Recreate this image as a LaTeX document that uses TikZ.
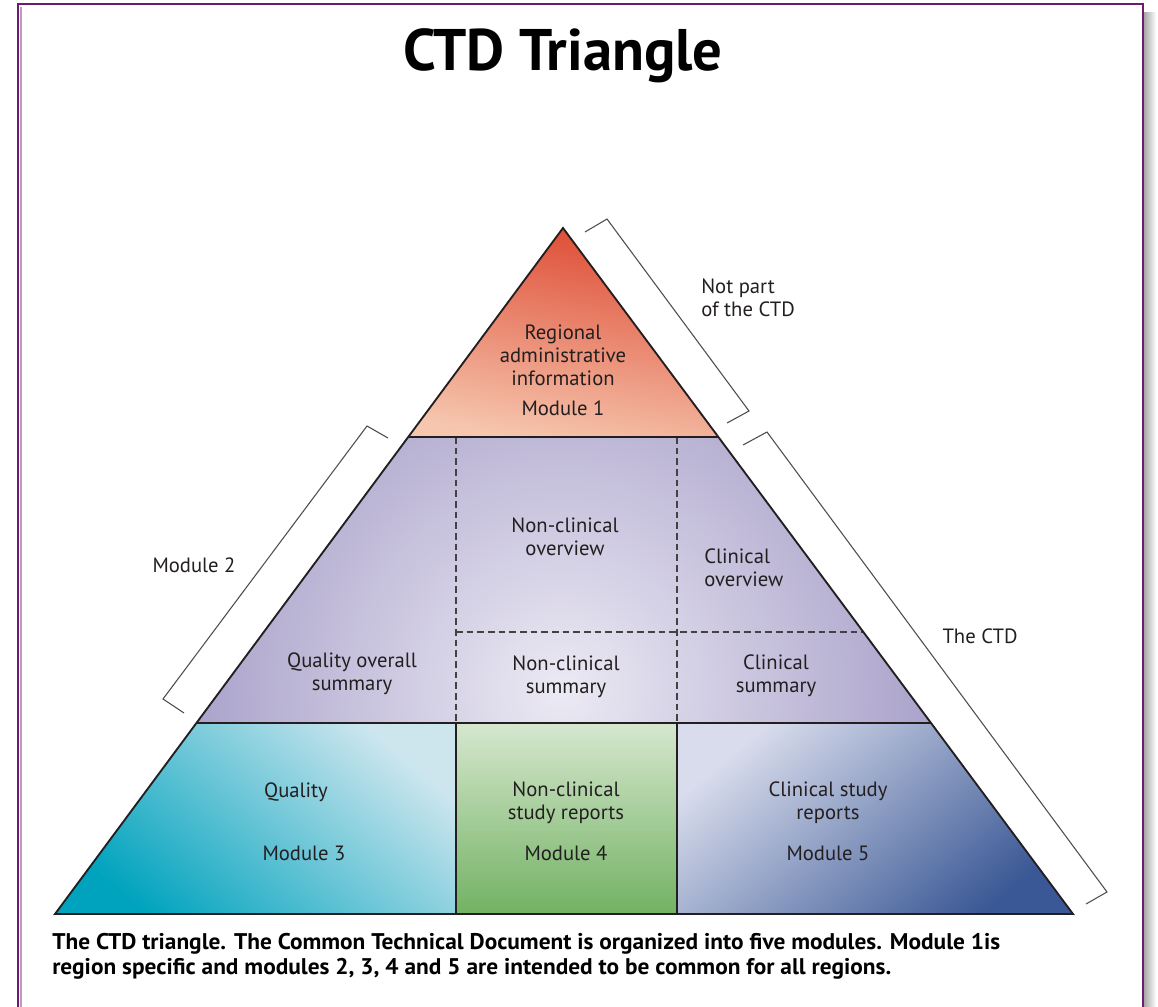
\documentclass[tikz,border=0pt]{standalone}
\usepackage{fontspec}
\setmainfont{PT Sans}
\definecolor{framec}{HTML}{6E1A72}
\definecolor{inkc}{HTML}{231F20}
\definecolor{bracketc}{HTML}{4D4D4F}
\definecolor{redtop}{HTML}{DE4A33}
\definecolor{redbot}{HTML}{F6C6AE}
\definecolor{purpout}{HTML}{857AB3}
\definecolor{purpin}{HTML}{ECEAF4}
\definecolor{tealdark}{HTML}{00A3BE}
\definecolor{teallight}{HTML}{CDE6EE}
\definecolor{greenlight}{HTML}{D6E7CF}
\definecolor{greendark}{HTML}{72B262}
\definecolor{bluelight}{HTML}{D8DCEC}
\definecolor{bluedark}{HTML}{3A5895}
\tikzset{
  lbl/.style={text=inkc, align=center, font=\fontsize{15.5}{17.3}\selectfont, inner sep=0pt},
  brace/.style={draw=bracketc, line width=0.8pt},
  dashline/.style={draw=inkc!85, line width=0.8pt, dash pattern=on 5pt off 3pt}
}
\begin{document}
\begin{tikzpicture}[x=0.75pt, y=-0.75pt]
\useasboundingbox (0,0) rectangle (1158,1007);
\shade[left color=black!35, right color=white] (1144,12) rectangle (1156,1007);
\draw[framec!45, line width=1pt] (21,1007) -- (21,7);
\draw[framec, line width=2.2pt] (18,1007) |- (1143,4) -- (1143,1007);
\coordinate (apex) at (563,228);
\coordinate (bl) at (55,914);
\coordinate (br) at (1073,914);
\coordinate (l1) at (408,437);
\coordinate (r1) at (718,437);
\coordinate (l2) at (196,723);
\coordinate (r2) at (931,723);
\coordinate (c1) at (456,437);
\coordinate (c2) at (677,437);
\coordinate (d1) at (456,723);
\coordinate (d2) at (677,723);
\coordinate (e1) at (456,914);
\coordinate (e2) at (677,914);
\coordinate (m1) at (456,632);
\coordinate (m2) at (863,632);
\shade[top color=redtop, bottom color=redbot, shading angle=-10] (apex) -- (r1) -- (l1) -- cycle;
\begin{scope}
\clip (l1) -- (r1) -- (r2) -- (l2) -- cycle;
\shade[inner color=purpin, outer color=purpout] (562,690) circle (580);
\end{scope}
\shade[top color=teallight, bottom color=tealdark, shading angle=-40] (l2) -- (d1) -- (e1) -- (bl) -- cycle;
\shade[top color=greenlight, bottom color=greendark] (d1) -- (d2) -- (e2) -- (e1) -- cycle;
\shade[top color=bluelight, bottom color=bluedark, shading angle=40] (d2) -- (r2) -- (br) -- (e2) -- cycle;
\draw[dashline] (c1) -- (d1);
\draw[dashline] (c2) -- (d2);
\draw[dashline] (m1) -- (m2);
\draw[inkc, line width=1pt] (d1) -- (e1) (d2) -- (e2);
\draw[inkc, line width=1.1pt] (l1) -- (r1) (l2) -- (r2);
\draw[inkc, line width=1.4pt, line join=miter] (apex) -- (br) -- (bl) -- cycle;
\draw[brace] (585,232) -- (607,219) -- (749,411) -- (727,423);
\draw[brace] (743,445) -- (767,432) -- (1107,892) -- (1086,904);
\draw[brace] (388,438) -- (367,426) -- (163,699) -- (184,713);
\node[font=\fontsize{44}{50}\selectfont\bfseries, text=black] (title) at (563,56) {CTD Triangle};
\node[lbl] (regional) at (563,355) {Regional\\administrative\\information};
\node[lbl] (mod1) at (563,408) {Module 1};
\node[lbl, align=left, anchor=west] (notpart) at (701,298) {Not part\\of the CTD};
\node[lbl] (thectd) at (980,636) {The CTD};
\node[lbl] (mod2) at (194,565) {Module 2};
\node[lbl] (ncover) at (565,537) {Non-clinical\\overview};
\node[lbl, align=left, anchor=west] (clover) at (704,568) {Clinical\\overview};
\node[lbl] (qos) at (352,674) {Quality overall\\summary};
\node[lbl] (ncsum) at (566,677) {Non-clinical\\summary};
\node[lbl] (clsum) at (776,676) {Clinical\\summary};
\node[lbl] (quality) at (296,792) {Quality};
\node[lbl] (mod3) at (304,853) {Module 3};
\node[lbl] (ncstudy) at (566,803) {Non-clinical\\study reports};
\node[lbl] (mod4) at (566,853) {Module 4};
\node[lbl] (clstudy) at (828,803) {Clinical study\\reports};
\node[lbl] (mod5) at (828,853) {Module 5};
\node[anchor=west, align=left, inner sep=0pt, text=black, font=\fontsize{17}{18.5}\selectfont\bfseries] (caption) at (52,956) {\scalebox{1.03}[1]{The CTD triangle. The Common Technical Document is organized into five modules. Module 1is}\\\scalebox{1.03}[1]{region specific and modules 2, 3, 4 and 5 are intended to be common for all regions.}};
\end{tikzpicture}
\end{document}
